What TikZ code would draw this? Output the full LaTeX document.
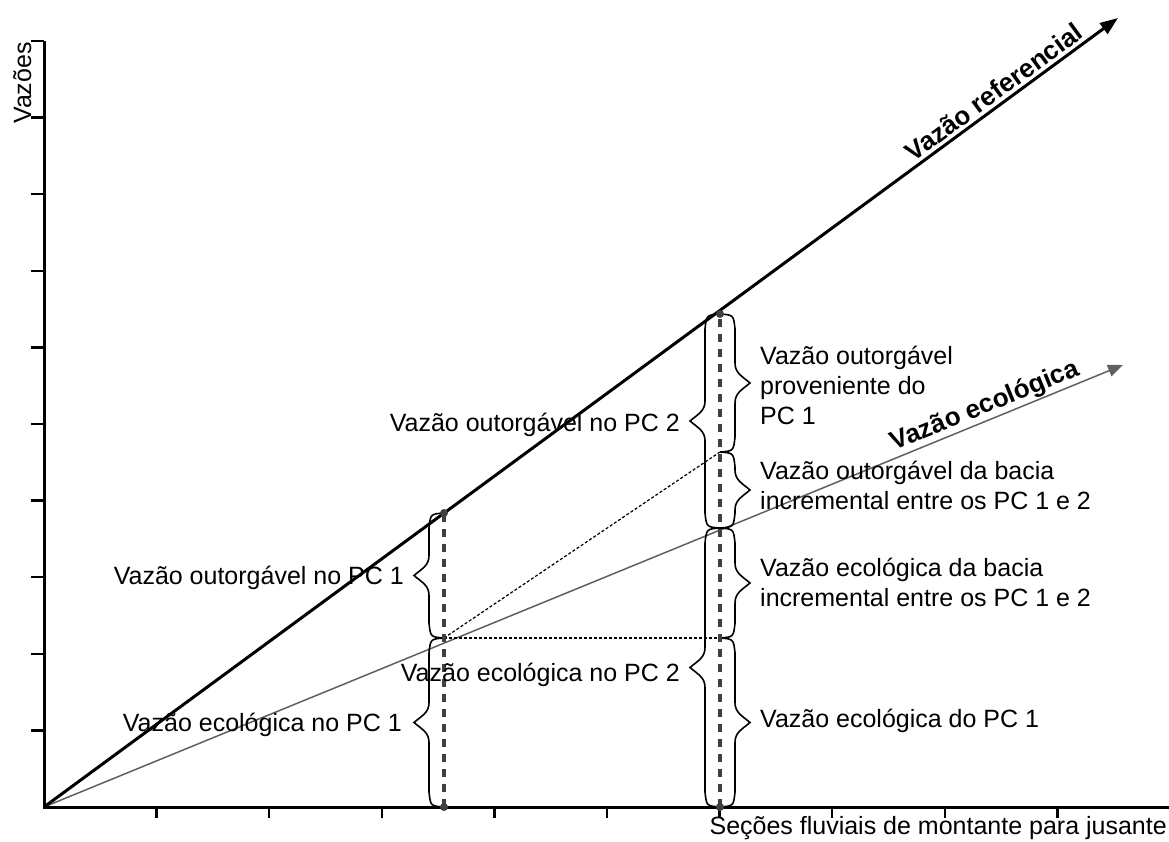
\documentclass[tikz,border=0pt]{standalone}
\usepackage{fontspec}
\setmainfont{Liberation Sans}
\usetikzlibrary{arrows.meta,calc}
\definecolor{ecogray}{HTML}{606060}
\definecolor{secgray}{HTML}{404040}
\newcommand\vbrace[3]{%
  \draw[bracestyle] let \p1=(#1), \p2=(#2), \n1={(\y1+\y2)/2} in
    (\x1,\y1) .. controls ({\x1+0.9*#3},{\y1+1pt}) .. ({\x1+#3},{\y1+15pt})
    -- ({\x1+#3},{\n1-20pt})
    .. controls ({\x1+#3},{\n1-10pt}) and ({\x1+1.45*#3},{\n1-7pt}) .. ({\x1+2*#3},\n1)
    .. controls ({\x1+1.45*#3},{\n1+7pt}) and ({\x1+#3},{\n1+10pt}) .. ({\x1+#3},{\n1+20pt})
    -- ({\x1+#3},{\y2-15pt}) .. controls ({\x1+0.9*#3},{\y2-1pt}) .. (\x2,\y2);}
\begin{document}
\begin{tikzpicture}[x=1pt,y=1pt,
  axis/.style={line width=3pt, black, line join=miter},
  tickmark/.style={line width=2.5pt, black},
  refline/.style={line width=3pt, black, -{Triangle[length=18pt,width=13pt]}},
  ecoline/.style={line width=1.5pt, draw=ecogray, -{Triangle[length=15pt,width=12pt]}},
  section/.style={line width=3.5pt, draw=secgray, dash pattern=on 8pt off 7pt},
  dotline/.style={line width=1.2pt, black, dash pattern=on 3pt off 2pt},
  bracestyle/.style={line width=1.6pt, black},
  lbl/.style={font=\fontsize{25}{30}\selectfont, inner sep=0pt},
  blbl/.style={font=\fontsize{26}{30}\selectfont\bfseries, text=black},
  enddot/.style={circle, fill=secgray, inner sep=0pt, minimum size=8pt}
]
\useasboundingbox (0,0) rectangle (1169,841);
\fill[white] (0,0) rectangle (1169,841);

% axes
\coordinate (O) at (44,34);
\coordinate (Ytop) at (44,800);
\coordinate (Xend) at (1169,34);
\draw[axis] (Ytop) -- (O) -- (Xend);
\foreach \k in {1,...,10} \draw[tickmark] (44,{34+76.6*\k}) -- ++(-13,0);
\foreach \k in {1,...,9} \draw[tickmark] ({44+112.6*\k},34) -- ++(0,-11);

% main lines
\coordinate (R) at (1118,823);
\coordinate (E) at (1123,476);
\draw[ecoline] (O) -- (E) node[pos=0.877, sloped, above, blbl, inner sep=1pt] {Vazão ecológica};
\draw[refline] (O) -- (R) node[pos=0.892, sloped, above, blbl, inner sep=3pt] {Vazão referencial};

% sections
\coordinate (A1) at (444,328);
\coordinate (M1) at (444,203);
\coordinate (B1) at (444,34);
\coordinate (A2) at (720,527);
\coordinate (D2) at (720,389);
\coordinate (E2) at (720,313);
\coordinate (H2) at (720,203);
\coordinate (B2) at (720,34);

% braces
\vbrace{B1}{M1}{(-15pt)}
\vbrace{M1}{A1}{(-15pt)}
\vbrace{B2}{E2}{(-15pt)}
\vbrace{E2}{A2}{(-15pt)}
\vbrace{D2}{A2}{(15pt)}
\vbrace{E2}{D2}{(15pt)}
\vbrace{H2}{E2}{(15pt)}
\vbrace{B2}{H2}{(15pt)}

\draw[dotline] (M1) -- (D2);
\draw[dotline] (M1) -- (H2);
\draw[section] (B1) -- (A1);
\draw[section] (B2) -- (A2);
\node[enddot] (dA1) at (A1) {};
\node[enddot] (dB1) at (B1) {};
\node[enddot] (dA2) at (A2) {};
\node[enddot] (dB2) at (B2) {};

% labels
\node[lbl, anchor=base east] (t1) at (404,257) {Vazão outorgável no PC 1};
\node[lbl, anchor=base east] (t2) at (402,110) {Vazão ecológica no PC 1};
\node[lbl, anchor=base east] (t3) at (680,160) {Vazão ecológica no PC 2};
\node[lbl, anchor=base east] (t4) at (680,409) {Vazão outorgável no PC 2};
\node[lbl, anchor=west, align=left] (t5) at (760,456) {Vazão outorgável\\proveniente do\\PC 1};
\node[lbl, anchor=west, align=left] (t6) at (760,356) {Vazão outorgável da bacia\\incremental entre os PC 1 e 2};
\node[lbl, anchor=west, align=left] (t7) at (760,259) {Vazão ecológica da bacia\\incremental entre os PC 1 e 2};
\node[lbl, anchor=base west] (t8) at (760,114) {Vazão ecológica do PC 1};
\node[lbl, anchor=base east] (xl) at (1167,7) {Seções fluviais de montante para jusante};
\node[lbl, anchor=base, rotate=90] (yl) at (31,758) {Vazões};
\end{tikzpicture}
\end{document}
